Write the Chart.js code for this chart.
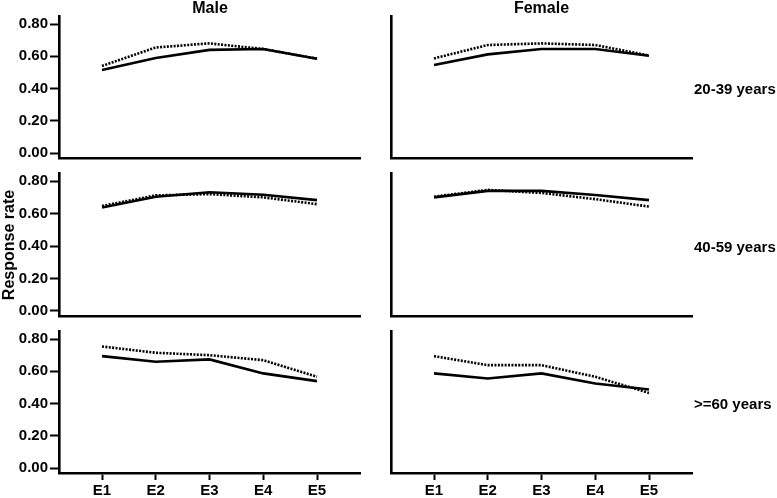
<!DOCTYPE html>
<html>
<head>
<meta charset="utf-8">
<script src="https://cdn.jsdelivr.net/npm/chart.js@4"></script>
<style>
  body { margin: 0; background: #fff; }
  #wrap { position: relative; width: 777px; height: 498px; overflow: hidden; font-family: "Liberation Sans", Arial, sans-serif; font-weight: bold; color: #000; }
  canvas { position: absolute; }
  .lbl { position: absolute; white-space: nowrap; line-height: 1; }
</style>
</head>
<body>
<div id="wrap">
  <canvas id="c0"></canvas>
  <canvas id="c1"></canvas>
  <canvas id="c2"></canvas>
  <canvas id="c3"></canvas>
  <canvas id="c4"></canvas>
  <canvas id="c5"></canvas>
  <div class="lbl" id="titleMale" style="font-size:16px; left:0; width:420px; text-align:center; top:0;"></div>
  <div class="lbl" id="titleFemale" style="font-size:16px; left:391px; width:301px; text-align:center; top:0;"></div>
  <div class="lbl" id="row0" style="font-size:15px; left:694px; top:81px;"></div>
  <div class="lbl" id="row1" style="font-size:15px; left:694px; top:239px;"></div>
  <div class="lbl" id="row2" style="font-size:15px; left:694px; top:396px;"></div>
  <div class="lbl" id="yTitle" style="font-size:16px; left:-47px; top:237px; width:112px; text-align:center; transform:rotate(-90deg);"></div>
</div>
<script>
const categories = ["E1", "E2", "E3", "E4", "E5"];
const sexes = ["Male", "Female"];
const ageGroups = ["20-39 years", "40-59 years", ">=60 years"];
const yTicks = [0, 0.2, 0.4, 0.6, 0.8];
const yTitle = "Response rate";

const male2039Solid = [0.515, 0.59, 0.64, 0.645, 0.585];
const male2039Dotted = [0.54, 0.655, 0.68, 0.645, 0.585];
const female2039Solid = [0.546, 0.612, 0.645, 0.645, 0.603];
const female2039Dotted = [0.587, 0.67, 0.68, 0.67, 0.605];

const male4059Solid = [0.637, 0.704, 0.731, 0.716, 0.683];
const male4059Dotted = [0.647, 0.712, 0.72, 0.70, 0.658];
const female4059Solid = [0.70, 0.74, 0.74, 0.714, 0.683];
const female4059Dotted = [0.704, 0.746, 0.727, 0.689, 0.643];

const male60Solid = [0.694, 0.659, 0.674, 0.587, 0.539];
const male60Dotted = [0.754, 0.715, 0.70, 0.669, 0.566];
const female60Solid = [0.587, 0.555, 0.587, 0.524, 0.487];
const female60Dotted = [0.694, 0.638, 0.638, 0.566, 0.466];

const panelData = [
  [male2039Solid, male2039Dotted], [female2039Solid, female2039Dotted],
  [male4059Solid, male4059Dotted], [female4059Solid, female4059Dotted],
  [male60Solid, male60Dotted], [female60Solid, female60Dotted]
];

document.getElementById("titleMale").textContent = sexes[0];
document.getElementById("titleFemale").textContent = sexes[1];
ageGroups.forEach((g, i) => document.getElementById("row" + i).textContent = g);
document.getElementById("yTitle").textContent = yTitle;

// canvas boxes per row / column
const rowBox = [
  { top: 0, height: 175, padTop: 16, xHeight: 17 },
  { top: 160, height: 173, padTop: 13, xHeight: 17 },
  { top: 318, height: 180, padTop: 13, xHeight: 25 }
];
const colBox = [
  { left: 0, width: 370, yWidth: 59, padRight: 10 },
  { left: 380, width: 320, yWidth: 11, padRight: 8 }
];

const tickFont = { family: "'Liberation Sans', Arial, sans-serif", size: 15, weight: "bold" };

function toPoints(values) {
  return values.map((v, i) => ({ x: i + 1, y: v }));
}

function makePanel(idx) {
  const row = Math.floor(idx / 2);
  const col = idx % 2;
  const rb = rowBox[row];
  const cb = colBox[col];
  const canvas = document.getElementById("c" + idx);
  canvas.width = cb.width;
  canvas.height = rb.height;
  canvas.style.left = cb.left + "px";
  canvas.style.top = rb.top + "px";

  const showY = col === 0;
  const showX = row === 2;
  const [solid, dotted] = panelData[idx];

  new Chart(canvas, {
    type: "line",
    data: {
      datasets: [
        {
          data: toPoints(solid),
          borderColor: "#000",
          borderWidth: 2.6,
          pointRadius: 0,
          tension: 0
        },
        {
          data: toPoints(dotted),
          borderColor: "#000",
          borderWidth: 2.6,
          borderDash: [2, 1.4],
          pointRadius: 0,
          tension: 0
        }
      ]
    },
    options: {
      responsive: false,
      animation: false,
      events: [],
      layout: { padding: { top: rb.padTop, right: cb.padRight, left: 0, bottom: 0 } },
      plugins: { legend: { display: false }, tooltip: { enabled: false } },
      scales: {
        x: {
          type: "linear",
          min: 0.2,
          max: 5.8,
          afterBuildTicks: (scale) => { scale.ticks = categories.map((c, i) => ({ value: i + 1 })); },
          afterFit: (scale) => { scale.height = rb.xHeight; },
          ticks: {
            display: showX,
            color: "#000",
            font: tickFont,
            padding: 2,
            maxRotation: 0,
            callback: (v) => categories[v - 1]
          },
          grid: {
            display: true,
            drawOnChartArea: false,
            drawTicks: showX,
            tickLength: 7,
            tickWidth: 2,
            tickColor: "#000"
          },
          border: { display: true, color: "#000", width: 2.6 }
        },
        y: {
          min: -0.031,
          max: 0.85,
          afterBuildTicks: (scale) => { scale.ticks = yTicks.map(v => ({ value: v })); },
          afterFit: (scale) => { scale.width = cb.yWidth; },
          ticks: {
            display: showY,
            color: "#000",
            font: tickFont,
            padding: 2,
            callback: (v) => v.toFixed(2)
          },
          grid: {
            display: true,
            drawOnChartArea: false,
            drawTicks: showY,
            tickLength: 9,
            tickWidth: 2,
            tickColor: "#000"
          },
          border: { display: true, color: "#000", width: 2.6 }
        }
      }
    }
  });
}

for (let i = 0; i < 6; i++) {
  makePanel(i);
}
</script>
</body>
</html>
